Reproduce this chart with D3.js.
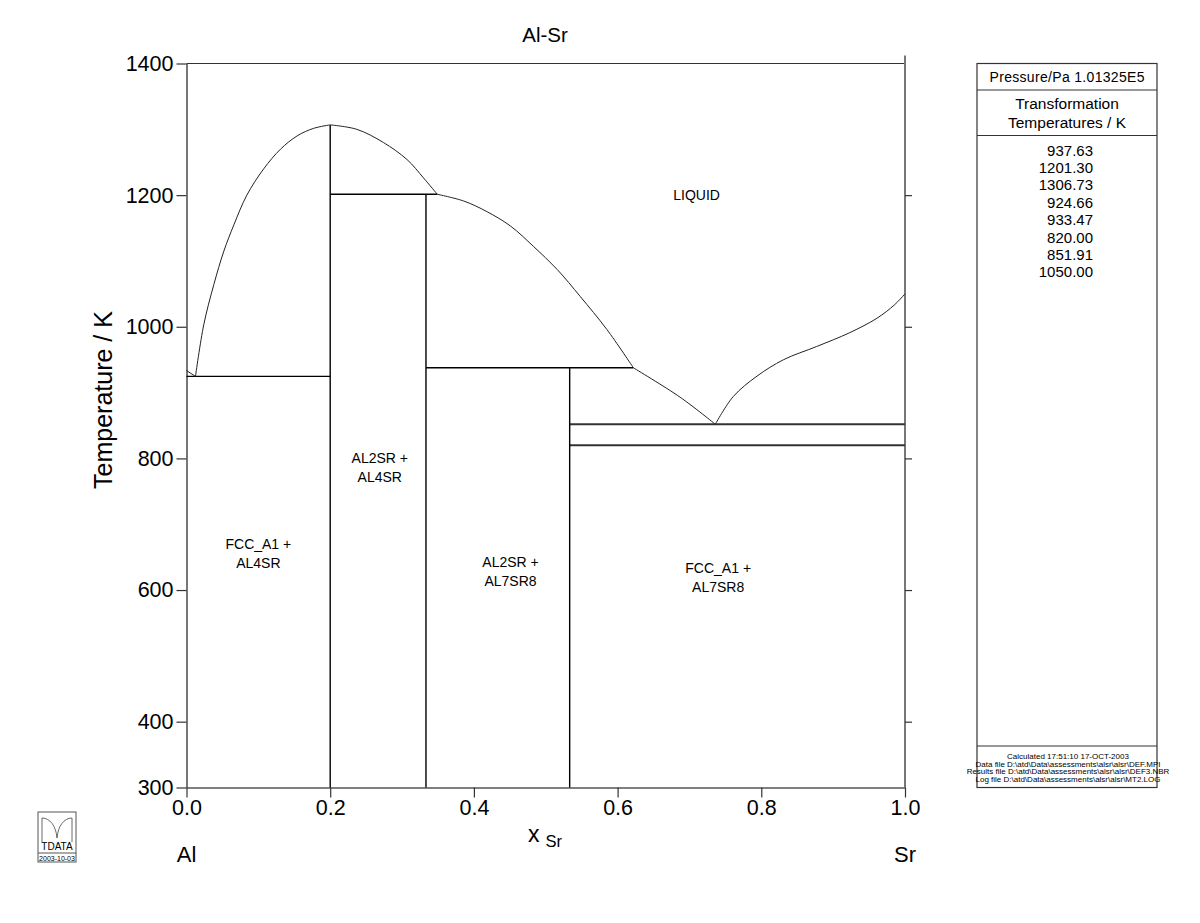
<!DOCTYPE html>
<html>
<head>
<meta charset="utf-8">
<script src="https://cdn.jsdelivr.net/npm/d3@7"></script>
<style>
  body { margin: 0; background: #fff; }
  svg text { font-family: "Liberation Sans", Arial, sans-serif; }
</style>
</head>
<body>
<div id="chart"></div>
<script>
// axis ticks
var xTicks = [0, 0.2, 0.4, 0.6, 0.8, 1.0]
var tTicks = [300, 400, 600, 800, 1000, 1200, 1400]

// liquidus branches, [x_Sr, T/K]
var liqAl = [[0, 933.47], [0.0125, 924.66]]
var liqAl4Sr = [[0.0125, 924.66], [0.024, 1003], [0.038, 1064], [0.052, 1115], [0.066, 1155],
                [0.084, 1200], [0.1075, 1240], [0.131, 1270], [0.154, 1290], [0.177, 1301.5],
                [0.2, 1306.73]]
var liqAl4SrR = [[0.2, 1306.73], [0.237, 1300], [0.274, 1280], [0.307, 1254], [0.33, 1226],
                 [0.349, 1201.3]]
var liqAl2Sr = [[0.349, 1201.3], [0.386, 1191], [0.418, 1175], [0.451, 1153], [0.483, 1122],
                [0.516, 1087], [0.548, 1046], [0.585, 996], [0.622, 937.63]]
var liqAl7Sr8 = [[0.622, 937.63], [0.687, 893], [0.736, 851.91]]
var liqSr = [[0.736, 851.91], [0.761, 894], [0.794, 925], [0.831, 950], [0.877, 970],
             [0.923, 991], [0.961, 1013], [0.985, 1033], [1.0, 1050]]

// invariant horizontals: from x, to x, T
var invariants = [[0, 0.2, 924.66], [0.2, 0.349, 1201.3], [0.3333, 0.622, 937.63],
                  [0.5333, 1.0, 851.91], [0.5333, 1.0, 820.0]]
// compounds: composition, top T
var compounds = [[0.2, 1306.73], [0.3333, 1201.3], [0.5333, 937.63]]

// region labels
var labels = [[0.71, 1200, ["LIQUID"]], [0.269, 800, ["AL2SR +", "AL4SR"]],
              [0.1, 670, ["FCC_A1 +", "AL4SR"]], [0.451, 643, ["AL2SR +", "AL7SR8"]],
              [0.74, 633, ["FCC_A1 +", "AL7SR8"]]]

var transTemps = ["937.63", "1201.30", "1306.73", "924.66", "933.47", "820.00", "851.91", "1050.00"]
var fileInfo = ["Calculated  17:51:10  17-OCT-2003",
                "Data file  D:\\atd\\Data\\assessments\\alsr\\alsr\\DEF.MPI",
                "Results file  D:\\atd\\Data\\assessments\\alsr\\alsr\\DEF3.NBR",
                "Log file  D:\\atd\\Data\\assessments\\alsr\\alsr\\MT2.LOG"]

var W = 1200, H = 923
var pLeft = 186.5, pRight = 905, pTop = 63.5, pBottom = 787.5

var svg = d3.select("#chart").append("svg")
  .attr("width", W).attr("height", H)

var x = d3.scaleLinear().domain([0, 1]).range([pLeft, pRight])
var y = d3.scaleLinear().domain([300, 1400]).range([pBottom, pTop])

// frame
svg.append("line").attr("x1", pLeft).attr("x2", pRight).attr("y1", pTop).attr("y2", pTop)
  .attr("stroke", "#333").attr("stroke-width", 1.2)
svg.append("line").attr("x1", pRight).attr("x2", pRight).attr("y1", pTop - 8).attr("y2", pBottom)
  .attr("stroke", "#777").attr("stroke-width", 2)

// axes
var axLeft = svg.append("g").attr("transform", "translate(" + pLeft + ",0)")
  .call(d3.axisLeft(y).tickValues(tTicks).tickSize(10).tickSizeOuter(0).tickPadding(3).tickFormat(d3.format("d")))
var axRight = svg.append("g").attr("transform", "translate(" + pRight + ",0)")
  .call(d3.axisRight(y).tickValues(tTicks.filter(function(d) { return d > 300 && d < 1400 }))
    .tickSize(7).tickSizeOuter(0).tickFormat(""))
var axBottom = svg.append("g").attr("transform", "translate(0," + pBottom + ")")
  .call(d3.axisBottom(x).tickValues(xTicks).tickSize(10).tickSizeOuter(0).tickPadding(2).tickFormat(d3.format(".1f")))

axLeft.select(".domain").attr("stroke", "#777").attr("stroke-width", 2)
axRight.select(".domain").remove()
axBottom.select(".domain").attr("stroke", "#555").attr("stroke-width", 1.5)
svg.selectAll(".tick line").attr("stroke", "#333").attr("stroke-width", 1.2)
svg.selectAll(".tick text").attr("font-size", 21.5).attr("fill", "#000")
  .style("font-family", "Liberation Sans, Arial, sans-serif")

// phase boundaries
var line = d3.line().x(function(d) { return x(d[0]) }).y(function(d) { return y(d[1]) })
var curved = d3.line().x(function(d) { return x(d[0]) }).y(function(d) { return y(d[1]) })
  .curve(d3.curveCatmullRom.alpha(0.5))

var g = svg.append("g").attr("fill", "none")
g.selectAll(".inv").data(invariants).enter().append("line")
  .attr("x1", function(d) { return x(d[0]) }).attr("x2", function(d) { return x(d[1]) })
  .attr("y1", function(d) { return y(d[2]) }).attr("y2", function(d) { return y(d[2]) })
  .attr("stroke", function(d) { return d[0] > 0.5 ? "#333" : "#000" })
  .attr("stroke-width", function(d) { return d[0] > 0.5 ? 2 : 1.4 })
g.selectAll(".cmp").data(compounds).enter().append("line")
  .attr("x1", function(d) { return x(d[0]) }).attr("x2", function(d) { return x(d[0]) })
  .attr("y1", function(d) { return y(d[1]) }).attr("y2", y(300))
  .attr("stroke", "#000").attr("stroke-width", 1.4)

g.append("path").attr("d", line(liqAl)).attr("stroke", "#222").attr("stroke-width", 1)
;[liqAl4Sr, liqAl4SrR, liqAl2Sr, liqAl7Sr8, liqSr].forEach(function(c) {
  g.append("path").attr("d", curved(c)).attr("stroke", "#222").attr("stroke-width", 1)
})

// region labels
labels.forEach(function(l) {
  var t = svg.append("text").attr("text-anchor", "middle").attr("font-size", 14)
    .attr("x", x(l[0])).attr("y", y(l[1]) + 5)
  l[2].forEach(function(s, i) {
    t.append("tspan").attr("x", x(l[0])).attr("dy", i == 0 ? 0 : 19).text(s)
  })
})

// titles
svg.append("text").attr("x", 545).attr("y", 42).attr("text-anchor", "middle")
  .attr("font-size", 20.5).text("Al-Sr")
svg.append("text").attr("transform", "translate(112,400) rotate(-90)")
  .attr("text-anchor", "middle").attr("font-size", 25).text("Temperature / K")
var xl = svg.append("text").attr("x", 528).attr("y", 842).attr("font-size", 23)
xl.append("tspan").text("x")
xl.append("tspan").attr("font-size", 16.5).attr("dx", 6).attr("dy", 5).text("Sr")
svg.append("text").attr("x", x(0)).attr("y", 862).attr("text-anchor", "middle")
  .attr("font-size", 22).text("Al")
svg.append("text").attr("x", x(1)).attr("y", 862).attr("text-anchor", "middle")
  .attr("font-size", 22).text("Sr")

// side legend box
var bx = 977, bw = 180, by = pTop, bh = pBottom - pTop
var box = svg.append("g")
box.append("rect").attr("x", bx).attr("y", by).attr("width", bw).attr("height", bh)
  .attr("fill", "none").attr("stroke", "#333").attr("stroke-width", 1.2)
;[90, 135.5, 746].forEach(function(yy) {
  box.append("line").attr("x1", bx).attr("x2", bx + bw).attr("y1", yy).attr("y2", yy)
    .attr("stroke", "#333").attr("stroke-width", 1.2)
})
box.append("text").attr("x", bx + bw / 2).attr("y", 82).attr("text-anchor", "middle")
  .attr("font-size", 14).attr("textLength", 155).attr("lengthAdjust", "spacing")
  .text("Pressure/Pa  1.01325E5")
box.append("text").attr("x", bx + bw / 2).attr("y", 109).attr("text-anchor", "middle")
  .attr("font-size", 15.5).text("Transformation")
box.append("text").attr("x", bx + bw / 2).attr("y", 128).attr("text-anchor", "middle")
  .attr("font-size", 15.5).text("Temperatures / K")
box.selectAll(".tt").data(transTemps).enter().append("text")
  .attr("x", 1093).attr("y", function(d, i) { return 155.5 + i * 17.4 })
  .attr("text-anchor", "end").attr("font-size", 15).text(function(d) { return d })
box.selectAll(".fi").data(fileInfo).enter().append("text")
  .attr("x", 1068).attr("y", function(d, i) { return 759 + i * 7.6 })
  .attr("text-anchor", "middle").attr("font-size", 8).text(function(d) { return d })

// logo
var logo = svg.append("g").attr("transform", "translate(38,812)")
logo.append("rect").attr("width", 38).attr("height", 50).attr("fill", "none")
  .attr("stroke", "#555").attr("stroke-width", 1)
logo.append("line").attr("x1", 0).attr("x2", 38).attr("y1", 41).attr("y2", 41)
  .attr("stroke", "#555").attr("stroke-width", 1)
logo.append("path").attr("d", "M4,6 C12,6 18,14 19,26 C20,14 26,6 34,6 M4,6 L4,30 M34,6 L34,30")
  .attr("fill", "none").attr("stroke", "#444").attr("stroke-width", 0.8)
logo.append("text").attr("x", 19).attr("y", 38).attr("text-anchor", "middle")
  .attr("font-size", 10).text("TDATA")
logo.append("text").attr("x", 19).attr("y", 48.5).attr("text-anchor", "middle")
  .attr("font-size", 7).text("2003-10-03")
</script>
</body>
</html>
